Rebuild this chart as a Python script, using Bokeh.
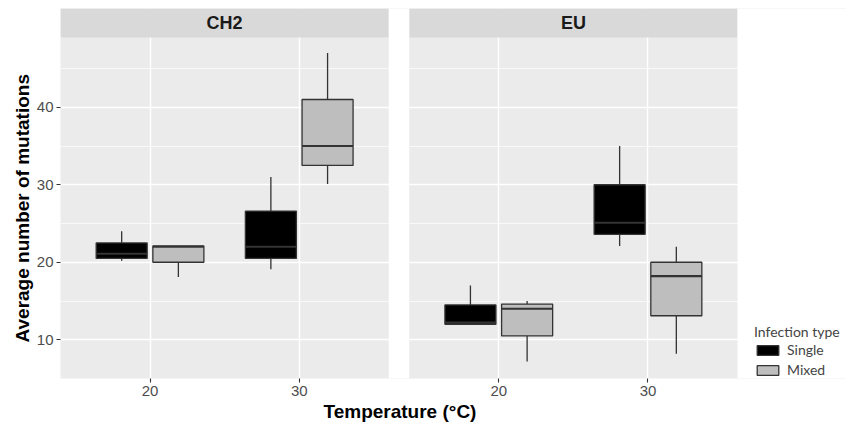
import numpy as np
from bokeh.plotting import figure
from bokeh.models import ColumnDataSource, FixedTicker, Legend, LegendItem, Title
from bokeh.core.properties import value
from bokeh.embed import file_html
from bokeh.resources import INLINE

# ---------------- data ----------------
panels = ["CH2", "EU"]
infection_types = ["Single", "Mixed"]
type_colors = ["#000000", "#BEBEBE"]
x_tick_values = [20, 30]
y_tick_values = [10, 20, 30, 40]
y_minor_values = [15, 25, 35, 45]

panel = ["CH2", "CH2", "CH2", "CH2", "EU", "EU", "EU", "EU"]
temperature = [20, 20, 30, 30, 20, 20, 30, 30]
infection = ["Single", "Mixed", "Single", "Mixed", "Single", "Mixed", "Single", "Mixed"]
lower = [20.2, 18.1, 19.1, 30.1, 12.0, 7.2, 22.1, 8.2]
q1 = [20.5, 20.0, 20.5, 32.5, 12.0, 10.5, 23.6, 13.1]
median = [21.1, 22.0, 22.0, 35.0, 12.2, 14.0, 25.1, 18.2]
q3 = [22.5, 22.1, 26.6, 41.0, 14.5, 14.6, 30.0, 20.0]
upper = [24.0, 22.1, 31.0, 47.0, 17.0, 15.0, 35.0, 22.0]

# ---------------- layout constants ----------------
W, H = 846, 425
LEFT, TOP, BOTTOM = 60, 8, 47
X_LO, X_HI = 14.0, 36.0          # x range of one facet panel
GAP = 1.375                      # white gap between facets (x units)
OFFSET = (X_HI - X_LO) + GAP     # shift of second facet
PANELS_W = 677                   # pixel width of both facets + gap
FRAME_W = W - LEFT               # frame also hosts the legend area
X_END = X_LO + (2 * (X_HI - X_LO) + GAP) * FRAME_W / PANELS_W
Y_LO, Y_HI = 5.0, 49.0
FRAME_H = H - TOP - BOTTOM
STRIP_PX = 29
Y_TOP = Y_HI + STRIP_PX * (Y_HI - Y_LO) / (FRAME_H - STRIP_PX)
DODGE = {"Single": -1.9, "Mixed": 1.9}
BOX_W = 3.42
panel_shift = {name: i * OFFSET for i, name in enumerate(panels)}

p = figure(width=W, height=H, title=None,
           x_range=(X_LO, X_END), y_range=(Y_LO, Y_TOP),
           output_backend="svg", toolbar_location=None,
           min_border_left=LEFT, min_border_right=0, min_border_top=TOP,
           min_border_bottom=BOTTOM)
p.background_fill_color = "#EBEBEB"
p.border_fill_color = "white"
p.outline_line_color = None

# ticks & grid
x_ticks = [t + panel_shift[nm] for nm in panels for t in x_tick_values]
x_ticker = FixedTicker(ticks=x_ticks)
p.xaxis.ticker = x_ticker
p.xaxis.major_label_overrides = {t + panel_shift[nm]: str(t) for nm in panels for t in x_tick_values}
p.xgrid.ticker = x_ticker
y_ticker = FixedTicker(ticks=y_tick_values, minor_ticks=y_minor_values)
p.yaxis.ticker = y_ticker
p.ygrid.ticker = y_ticker

p.xgrid.grid_line_color = "white"
p.xgrid.grid_line_width = 1.4
p.ygrid.grid_line_color = "white"
p.ygrid.grid_line_width = 1.4
p.ygrid.minor_grid_line_color = "white"
p.ygrid.minor_grid_line_width = 0.7

for ax in (p.xaxis, p.yaxis):
    ax.axis_line_color = None
    ax.major_tick_line_color = "#333333"
    ax.major_tick_line_width = 1.1
    ax.major_tick_in = 0
    ax.major_tick_out = 4
    ax.minor_tick_line_color = None
    ax.major_label_text_color = "#4D4D4D"
    ax.major_label_text_font = "Liberation Sans"
    ax.major_label_text_font_size = "15px"
    ax.major_label_standoff = 3

# axis titles (x title centred under the two facets, y title centred on the panels)
xtitle = Title(text="Temperature (°C)", align="left", offset=263, standoff=0,
               text_font="Liberation Sans", text_font_size="19px", text_font_style="bold",
               text_color="#000000")
p.add_layout(xtitle, "below")
ytitle = Title(text="Average number of mutations", align="left", offset=36, standoff=2,
               text_font="Liberation Sans", text_font_size="19px", text_font_style="bold",
               text_color="#000000")
p.add_layout(ytitle, "left")

# facet strips, gap and legend area
p.quad(left=[X_LO + panel_shift[nm] for nm in panels],
       right=[X_HI + panel_shift[nm] for nm in panels],
       bottom=Y_HI, top=Y_TOP, fill_color="#D9D9D9", line_color=None)
p.quad(left=[X_HI, X_HI + OFFSET], right=[X_LO + OFFSET, X_END], bottom=Y_LO, top=Y_TOP,
       fill_color="white", line_color=None)
p.text(x=[(X_LO + X_HI) / 2 + panel_shift[nm] for nm in panels],
       y=[(Y_HI + Y_TOP) / 2] * len(panels), text=panels,
       text_align="center", text_baseline="middle",
       text_font=value("Liberation Sans"), text_font_style="bold",
       text_font_size="18px", text_color="#1A1A1A")

# boxes
legend_items = []
for itype, col in zip(infection_types, type_colors):
    idx = [i for i, t in enumerate(infection) if t == itype]
    xs = np.array([temperature[i] + panel_shift[panel[i]] + DODGE[itype] for i in idx])
    src = ColumnDataSource(dict(
        x=xs, x0=xs - BOX_W / 2, x1=xs + BOX_W / 2,
        lower=[lower[i] for i in idx], q1=[q1[i] for i in idx],
        median=[median[i] for i in idx], q3=[q3[i] for i in idx],
        upper=[upper[i] for i in idx]))
    p.segment(x0="x", y0="q3", x1="x", y1="upper", source=src,
              line_color="#333333", line_width=1.3)
    p.segment(x0="x", y0="q1", x1="x", y1="lower", source=src,
              line_color="#333333", line_width=1.3)
    r = p.vbar(x="x", width=BOX_W, bottom="q1", top="q3", source=src,
               fill_color=col, line_color="#333333", line_width=1.3)
    p.segment(x0="x0", y0="median", x1="x1", y1="median", source=src,
              line_color="#333333", line_width=2.2)
    legend_items.append(LegendItem(label=itype, renderers=[r]))

legend = Legend(items=legend_items, title="Infection type", location=(754 - LEFT, 0),
                glyph_width=27, glyph_height=12, label_height=12, spacing=3,
                label_standoff=6, padding=0, margin=0, title_standoff=1,
                label_text_font="Lato", label_text_font_size="14px",
                title_text_font="Lato", title_text_font_size="14px",
                title_text_font_style="normal",
                border_line_color=None, background_fill_alpha=0)
p.add_layout(legend, "center")

open("out.html", "w").write(file_html(p, INLINE))
